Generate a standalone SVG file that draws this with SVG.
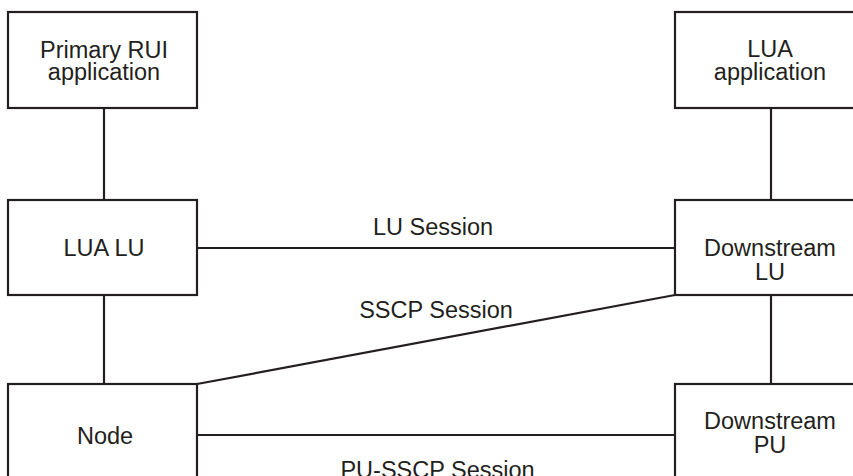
<svg xmlns="http://www.w3.org/2000/svg" width="853" height="476" viewBox="0 0 853 476">
<style>
.box{fill:#fff;stroke:#231f20;stroke-width:2.2}
.ln{stroke:#231f20;stroke-width:2.2;fill:none}
text{font-family:"Liberation Sans",Arial,sans-serif;font-size:23.5px;fill:#231f20;text-anchor:middle}
</style>
<rect width="853" height="476" fill="#fff"/>
<g id="connectors">
<line class="ln" x1="104" y1="108" x2="104" y2="200"/>
<line class="ln" x1="771" y1="108" x2="771" y2="200"/>
<line class="ln" x1="104" y1="295" x2="104" y2="384"/>
<line class="ln" x1="771" y1="295" x2="771" y2="384"/>
<line class="ln" x1="197" y1="248" x2="675" y2="248"/>
<line class="ln" x1="197" y1="384" x2="675" y2="295"/>
<line class="ln" x1="197" y1="435" x2="675" y2="435"/>
<text x="433" y="235">LU Session</text>
<text x="436" y="318">SSCP Session</text>
<text x="437.5" y="477.5">PU-SSCP Session</text>
</g>
<g id="primary-rui">
<rect class="box" x="8" y="12" width="189" height="96"/>
<text x="104" y="58">Primary RUI</text>
<text x="104" y="80">application</text>
</g>
<g id="lua-app">
<rect class="box" x="675" y="12" width="190" height="96"/>
<text x="770" y="57">LUA</text>
<text x="770" y="80">application</text>
</g>
<g id="lua-lu">
<rect class="box" x="8" y="200" width="189" height="95"/>
<text x="104" y="256">LUA LU</text>
</g>
<g id="downstream-lu">
<rect class="box" x="675" y="200" width="190" height="95"/>
<text x="770" y="256">Downstream</text>
<text x="770" y="279.5">LU</text>
</g>
<g id="node">
<rect class="box" x="8" y="384" width="189" height="100"/>
<text x="105" y="444">Node</text>
</g>
<g id="downstream-pu">
<rect class="box" x="675" y="384" width="190" height="100"/>
<text x="770" y="429">Downstream</text>
<text x="770" y="452.5">PU</text>
</g>
</svg>
